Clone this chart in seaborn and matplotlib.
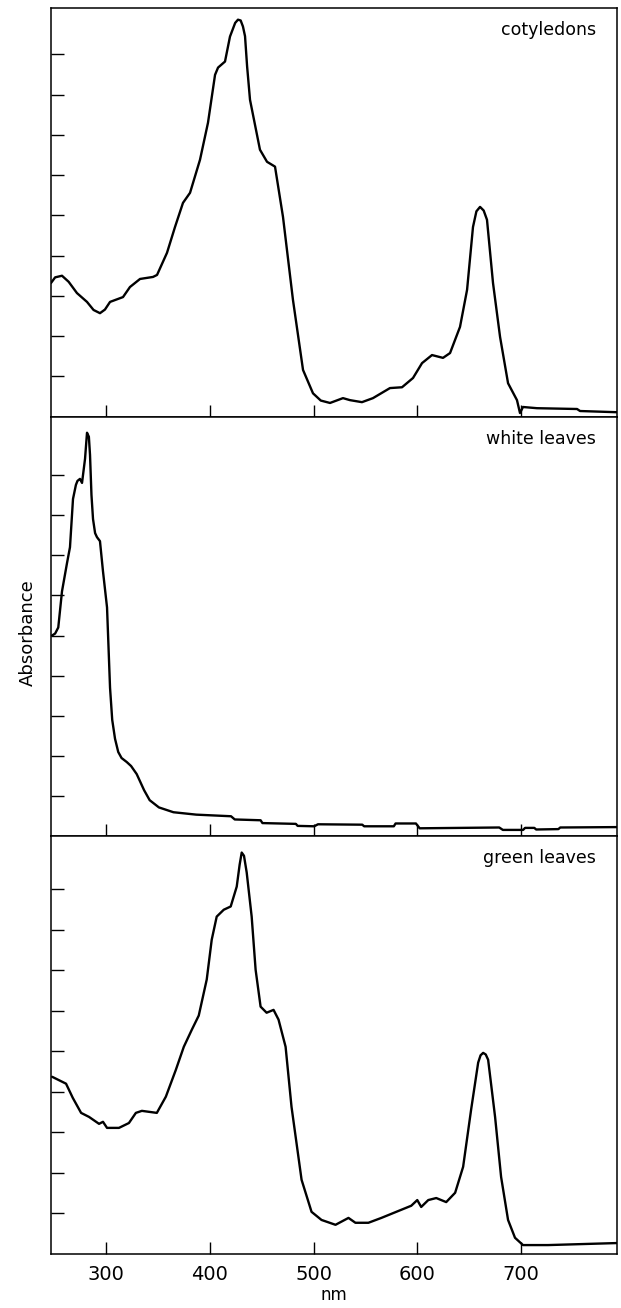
import numpy as np
import pandas as pd
import matplotlib
matplotlib.use("Agg")
import matplotlib.pyplot as plt
import seaborn as sns

# ---------------- data ----------------
panel_labels = ["cotyledons", "white leaves", "green leaves"]

cot_nm = [247.0, 251.0, 257.6, 264.0, 272.0, 281.7, 288.0, 294.2, 299.0, 303.9,
          316.4, 323.1, 332.8, 345.3, 349.2, 358.8, 366.5, 374.2, 381.0, 390.6,
          398.3, 405.1, 408.0, 414.7, 419.5, 424.5, 427.2, 429.8, 432.0, 434.0,
          436.0, 438.8, 448.4, 455.2, 462.9, 470.6, 480.2, 489.9, 499.5, 507.0,
          515.9, 528.4, 535.2, 546.7, 557.3, 573.7, 585.3, 595.9, 604.6, 614.2,
          624.8, 631.6, 641.2, 648.0, 653.7, 657.0, 660.5, 664.0, 667.2, 673.0,
          679.8, 687.5, 696.1, 699.0, 701.9, 715.4, 754.0, 756.9, 792.5]
cot_abs = [3.32, 3.46, 3.50, 3.35, 3.07, 2.85, 2.65, 2.57, 2.66, 2.85,
           2.97, 3.22, 3.42, 3.47, 3.52, 4.07, 4.71, 5.31, 5.56, 6.38,
           7.30, 8.49, 8.67, 8.82, 9.44, 9.78, 9.86, 9.84, 9.69, 9.45,
           8.70, 7.87, 6.63, 6.33, 6.21, 4.96, 2.90, 1.16, 0.58, 0.40,
           0.34, 0.46, 0.41, 0.36, 0.46, 0.71, 0.73, 0.96, 1.33, 1.53,
           1.46, 1.58, 2.23, 3.15, 4.71, 5.10, 5.21, 5.12, 4.89, 3.32,
           1.98, 0.83, 0.41, 0.09, 0.24, 0.21, 0.19, 0.14, 0.11]

wht_nm = [248.0, 251.0, 254.0, 257.6, 262.4, 265.3, 268.2, 271.0, 272.5, 274.9,
          276.9, 279.8, 281.7, 283.5, 284.6, 286.0, 287.5, 289.5, 291.3, 294.2,
          297.1, 301.0, 303.9, 306.0, 308.7, 311.8, 315.0, 320.0, 324.2, 329.6,
          336.7, 342.1, 351.0, 365.0, 387.0, 420.5, 424.1, 449.0, 450.8, 483.0,
          484.7, 500.7, 504.3, 547.0, 548.8, 577.4, 579.1, 598.7, 602.3, 679.0,
          682.5, 702.0, 703.9, 712.8, 714.6, 736.0, 737.8, 792.5]
wht_abs = [5.00, 5.05, 5.20, 6.10, 6.80, 7.20, 8.40, 8.75, 8.85, 8.90,
           8.80, 9.40, 10.05, 9.95, 9.50, 8.50, 7.90, 7.55, 7.45, 7.35,
           6.60, 5.70, 3.70, 2.90, 2.43, 2.10, 1.95, 1.85, 1.75, 1.55,
           1.15, 0.90, 0.72, 0.60, 0.54, 0.50, 0.42, 0.40, 0.33, 0.31,
           0.26, 0.25, 0.30, 0.29, 0.25, 0.25, 0.32, 0.32, 0.20, 0.22,
           0.16, 0.16, 0.21, 0.21, 0.17, 0.18, 0.22, 0.23]

grn_nm = [248.1, 261.5, 268.0, 276.0, 283.7, 293.3, 297.1, 301.0, 312.5, 322.1,
          328.8, 334.6, 349.0, 357.7, 367.3, 375.0, 382.7, 389.4, 397.1, 401.9,
          406.7, 413.5, 420.2, 426.0, 428.8, 430.8, 433.0, 435.6, 440.4, 444.2,
          449.0, 454.8, 461.5, 466.3, 473.1, 478.8, 488.5, 498.1, 507.7, 521.2,
          533.7, 540.4, 552.9, 565.4, 581.7, 594.2, 600.0, 603.8, 610.6, 618.3,
          627.9, 636.5, 644.2, 651.9, 658.7, 661.0, 663.5, 666.0, 668.3, 675.0,
          680.8, 687.5, 694.2, 701.9, 726.0, 792.5]
grn_abs = [4.37, 4.20, 3.85, 3.48, 3.38, 3.21, 3.26, 3.11, 3.11, 3.23,
           3.48, 3.53, 3.48, 3.88, 4.54, 5.11, 5.53, 5.88, 6.77, 7.75,
           8.32, 8.49, 8.57, 9.06, 9.60, 9.90, 9.82, 9.41, 8.32, 7.01,
           6.10, 5.95, 6.02, 5.78, 5.11, 3.63, 1.83, 1.04, 0.84, 0.72,
           0.89, 0.77, 0.77, 0.89, 1.06, 1.19, 1.33, 1.16, 1.33, 1.38,
           1.28, 1.51, 2.15, 3.56, 4.72, 4.90, 4.96, 4.92, 4.79, 3.38,
           1.90, 0.84, 0.40, 0.22, 0.22, 0.27]

x_ticks = [300, 400, 500, 600, 700]
x_tick_labels = ["300", "400", "500", "600", "700"]
y_ticks = [1, 2, 3, 4, 5, 6, 7, 8, 9]

# ---------------- figure ----------------
sns.set_theme(style="ticks")
plt.rcParams["font.family"] = ["DejaVu Sans"]

fig = plt.figure(figsize=(6.21, 13.08), dpi=100)
gs = fig.add_gridspec(3, 1, height_ratios=[408, 419, 417], hspace=0,
                      left=51 / 621, right=617 / 621,
                      top=1 - 8 / 1308, bottom=1 - 1254 / 1308)

series = [(cot_nm, cot_abs), (wht_nm, wht_abs), (grn_nm, grn_abs)]
ylims = [10.15, 10.45, 10.3]

for i, ((xs, ys), lab) in enumerate(zip(series, panel_labels)):
    ax = fig.add_subplot(gs[i])
    df = pd.DataFrame({"nm": xs, "A": ys})
    sns.lineplot(data=df, x="nm", y="A", ax=ax, color="black", linewidth=1.7,
                 sort=False, estimator=None)
    ax.set_xlim(247, 792.5)
    ax.set_ylim(0, ylims[i])
    ax.set_yticks(y_ticks)
    ax.set_yticklabels([])
    ax.set_xticks(x_ticks)
    ax.tick_params(axis="y", direction="in", length=9, width=1.0, color="black")
    ax.tick_params(axis="x", direction="in", length=9, width=1.0, color="black",
                   pad=8, labelsize=14, labelcolor="black")
    for s in ax.spines.values():
        s.set_visible(True)
        s.set_color("black")
        s.set_linewidth(1.1)
    ax.set_xlabel("")
    ax.set_ylabel("")
    ax.text(0.963, 0.935, lab, transform=ax.transAxes, ha="right", va="baseline",
            fontsize=12.5, color="black")
    if i < 2:
        ax.set_xticklabels([])
    else:
        ax.set_xticklabels(x_tick_labels)
        ax.set_xlabel("nm", fontsize=12, labelpad=1, color="black")

fig.text(28 / 621, 1 - 633 / 1308, "Absorbance", rotation=90, ha="center",
         va="center", fontsize=13, color="black")

fig.savefig("out.png", dpi=100, facecolor="white")
